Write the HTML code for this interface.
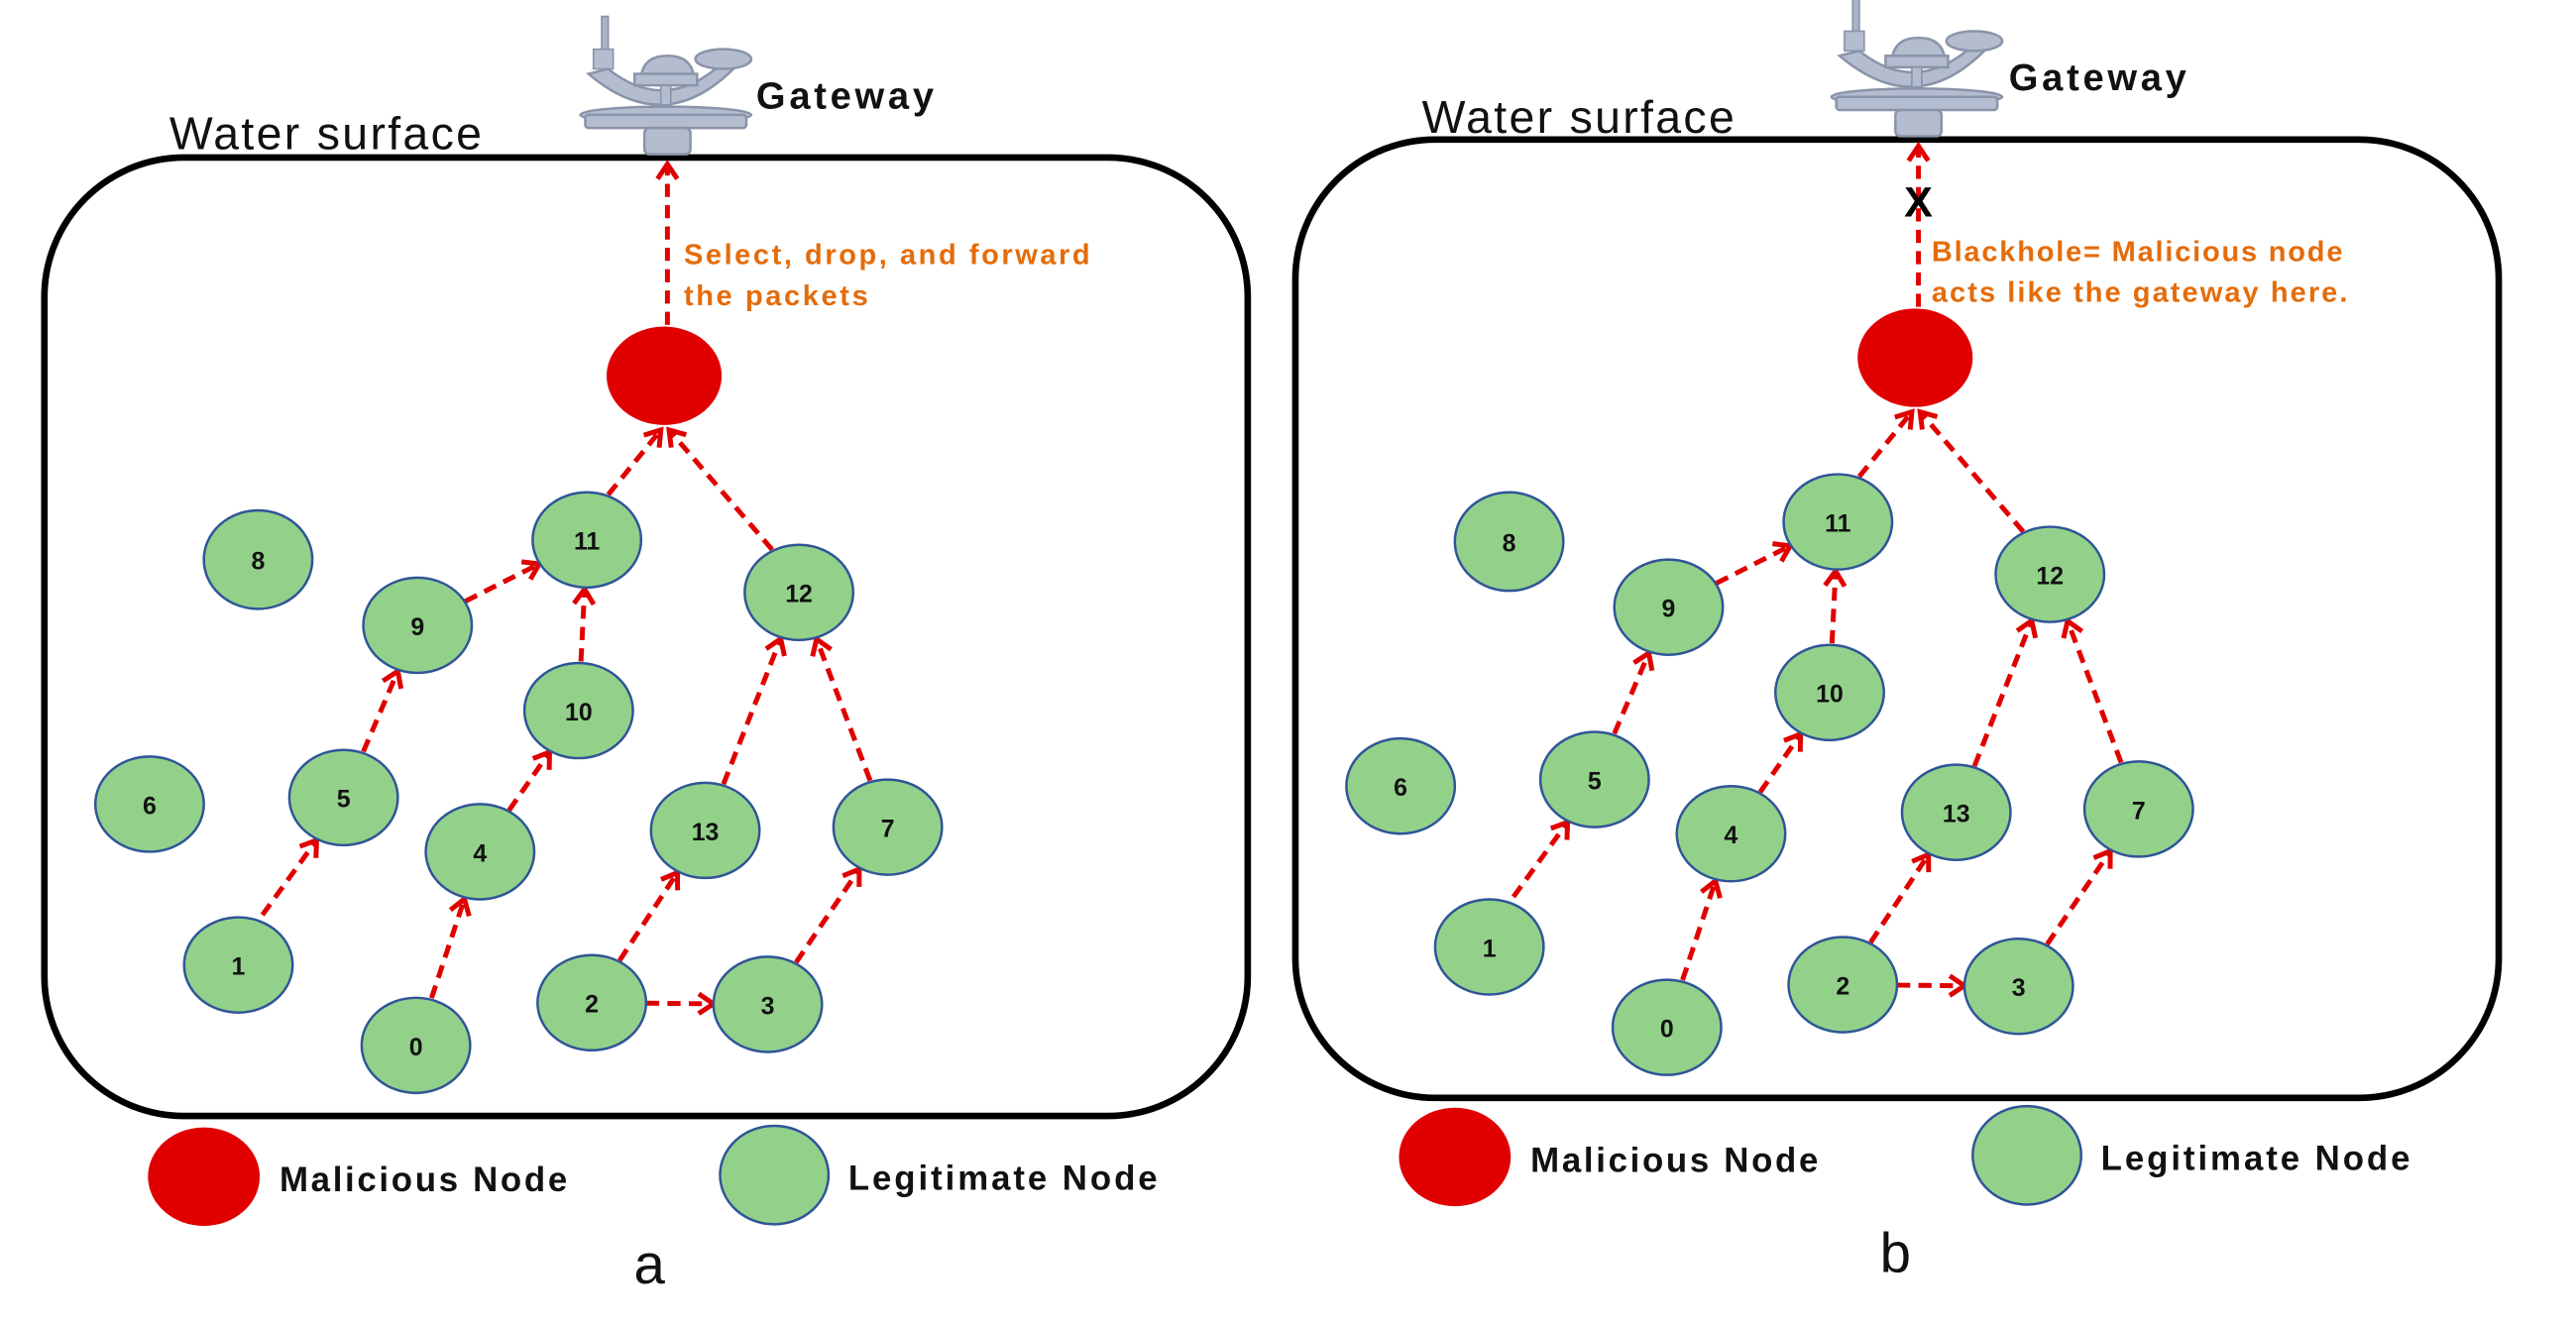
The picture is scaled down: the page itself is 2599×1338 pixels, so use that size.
<!DOCTYPE html>
<html><head><meta charset="utf-8"><style>
html,body{margin:0;padding:0;background:#fff;}
svg{display:block;}
</style></head><body>
<svg width="2599" height="1338" viewBox="0 0 1567 808" preserveAspectRatio="none" xmlns="http://www.w3.org/2000/svg">
<defs>
<marker id="ah" markerUnits="userSpaceOnUse" markerWidth="16" markerHeight="16" refX="12" refY="8" orient="auto">
<path d="M3,2 L12,8 L3,14" fill="none" stroke="#e00000" stroke-width="3"/>
</marker>
<g id="gw">
<rect x="366" y="10" width="4" height="22" fill="#aab4c8" stroke="#8a94a8" stroke-width="1"/>
<rect x="361" y="30" width="12" height="12" fill="#b4bdd0" stroke="#8a94a8" stroke-width="1"/>
<path d="M358,45 Q405,85 448,40 L440,38 Q405,70 370,42 Z" fill="#b4bdd0" stroke="#8a94a8" stroke-width="1.5"/>
<ellipse cx="440" cy="36" rx="17" ry="6" fill="#b4bdd0" stroke="#8a94a8" stroke-width="1.5"/>
<path d="M390,46 Q392,34 406,34 Q420,34 422,46 Z" fill="#b4bdd0" stroke="#8a94a8" stroke-width="1.5"/>
<rect x="386" y="45" width="38" height="7" fill="#b4bdd0" stroke="#8a94a8" stroke-width="1.5"/>
<rect x="402" y="52" width="6" height="12" fill="#b4bdd0" stroke="#8a94a8" stroke-width="1"/>
<ellipse cx="405" cy="70" rx="52" ry="5" fill="#b4bdd0" stroke="#8a94a8" stroke-width="1.5"/>
<rect x="356" y="70" width="98" height="8" rx="2" fill="#b4bdd0" stroke="#8a94a8" stroke-width="1.5"/>
<rect x="392" y="78" width="28" height="16" rx="3" fill="#b4bdd0" stroke="#8a94a8" stroke-width="1.5"/>
</g>
<g id="net" stroke="#e00000" stroke-width="3" stroke-dasharray="8 5" fill="none">
<line x1="152" y1="568" x2="192.6" y2="512" marker-end="url(#ah)"/>
<line x1="221" y1="458" x2="242" y2="409" marker-end="url(#ah)"/>
<line x1="283" y1="366.4" x2="328" y2="343.6" marker-end="url(#ah)"/>
<line x1="262.5" y1="608.2" x2="282.5" y2="547.8" marker-end="url(#ah)"/>
<line x1="309.7" y1="493.7" x2="334.3" y2="458.3" marker-end="url(#ah)"/>
<line x1="353.4" y1="403" x2="355.6" y2="359" marker-end="url(#ah)"/>
<line x1="370" y1="301.4" x2="402" y2="262" marker-end="url(#ah)"/>
<line x1="469.7" y1="334.9" x2="407" y2="262" marker-end="url(#ah)"/>
<line x1="376.9" y1="585.3" x2="412.1" y2="531.7" marker-end="url(#ah)"/>
<line x1="440.1" y1="477.8" x2="474.9" y2="389.2" marker-end="url(#ah)"/>
<line x1="393" y1="611.3" x2="434" y2="611.7" marker-end="url(#ah)"/>
<line x1="484.3" y1="586.4" x2="522.7" y2="529.6" marker-end="url(#ah)"/>
<line x1="529.3" y1="475.6" x2="496.7" y2="389.4" marker-end="url(#ah)"/>
<line x1="406" y1="198" x2="406" y2="100" marker-end="url(#ah)"/>
</g>
<g id="nodes" font-family="Liberation Sans, sans-serif" font-weight="bold" font-size="15" text-anchor="middle">
<g fill="#93d18a" stroke="#2f5597" stroke-width="1.5">
<ellipse cx="157" cy="341" rx="33" ry="30"/>
<ellipse cx="357" cy="329" rx="33" ry="29"/>
<ellipse cx="254" cy="381" rx="33" ry="29"/>
<ellipse cx="486" cy="361" rx="33" ry="29"/>
<ellipse cx="352" cy="433" rx="33" ry="29"/>
<ellipse cx="91" cy="490" rx="33" ry="29"/>
<ellipse cx="209" cy="486" rx="33" ry="29"/>
<ellipse cx="292" cy="519" rx="33" ry="29"/>
<ellipse cx="429" cy="506" rx="33" ry="29"/>
<ellipse cx="540" cy="504" rx="33" ry="29"/>
<ellipse cx="145" cy="588" rx="33" ry="29"/>
<ellipse cx="253" cy="637" rx="33" ry="29"/>
<ellipse cx="360" cy="611" rx="33" ry="29"/>
<ellipse cx="467" cy="612" rx="33" ry="29"/>
</g>
<ellipse cx="404" cy="229" rx="35" ry="30" fill="#e00000"/>
<g fill="#111">
<text x="157" y="347">8</text><text x="357" y="335">11</text><text x="254" y="387">9</text>
<text x="486" y="367">12</text><text x="352" y="439">10</text><text x="91" y="496">6</text>
<text x="209" y="492">5</text><text x="292" y="525">4</text><text x="429" y="512">13</text>
<text x="540" y="510">7</text><text x="145" y="594">1</text><text x="253" y="643">0</text>
<text x="360" y="617">2</text><text x="467" y="618">3</text>
</g>
</g>
</defs>

<!-- panel a -->
<rect x="27" y="96" width="732" height="584" rx="85" ry="85" fill="none" stroke="#000" stroke-width="4"/>
<use href="#gw"/>
<use href="#net"/>
<use href="#nodes"/>
<g font-family="Liberation Sans, sans-serif">
<text x="103" y="91" font-size="28" fill="#111" textLength="190">Water surface</text>
<text x="460" y="66" font-size="23" font-weight="bold" fill="#111" textLength="108">Gateway</text>
<text x="416" y="161" font-size="17.5" font-weight="bold" fill="#e46c0a" textLength="247">Select, drop, and forward</text>
<text x="416" y="186" font-size="17.5" font-weight="bold" fill="#e46c0a" textLength="112">the packets</text>
<ellipse cx="124" cy="717" rx="34" ry="30" fill="#e00000"/>
<text x="170" y="726" font-size="21" font-weight="bold" fill="#111" textLength="175">Malicious Node</text>
<ellipse cx="471" cy="716" rx="33" ry="30" fill="#93d18a" stroke="#2f5597" stroke-width="1.5"/>
<text x="516" y="725" font-size="21" font-weight="bold" fill="#111" textLength="188">Legitimate Node</text>
<text x="395" y="782" font-size="34" text-anchor="middle" fill="#111">a</text>
</g>

<!-- panel b -->
<g transform="translate(761,-11)">
<rect x="27" y="96" width="732" height="584" rx="85" ry="85" fill="none" stroke="#000" stroke-width="4"/>
<use href="#gw"/>
<use href="#net"/>
<use href="#nodes"/>
<g font-family="Liberation Sans, sans-serif">
<text x="104" y="92" font-size="28" fill="#111" textLength="190">Water surface</text>
<text x="461" y="66" font-size="23" font-weight="bold" fill="#111" textLength="108">Gateway</text>
<text x="406" y="143" font-size="26" font-weight="bold" text-anchor="middle" fill="#000">X</text>
<text x="414" y="170" font-size="17.5" font-weight="bold" fill="#e46c0a" textLength="250">Blackhole= Malicious node</text>
<text x="414" y="195" font-size="17.5" font-weight="bold" fill="#e46c0a" textLength="253">acts like the gateway here.</text>
<ellipse cx="124" cy="716" rx="34" ry="30" fill="#e00000"/>
<text x="170" y="725" font-size="21" font-weight="bold" fill="#111" textLength="175">Malicious Node</text>
<ellipse cx="472" cy="715" rx="33" ry="30" fill="#93d18a" stroke="#2f5597" stroke-width="1.5"/>
<text x="517" y="724" font-size="21" font-weight="bold" fill="#111" textLength="188">Legitimate Node</text>
<text x="392" y="786" font-size="34" text-anchor="middle" fill="#111">b</text>
</g>
</g>
</svg>
</body></html>
